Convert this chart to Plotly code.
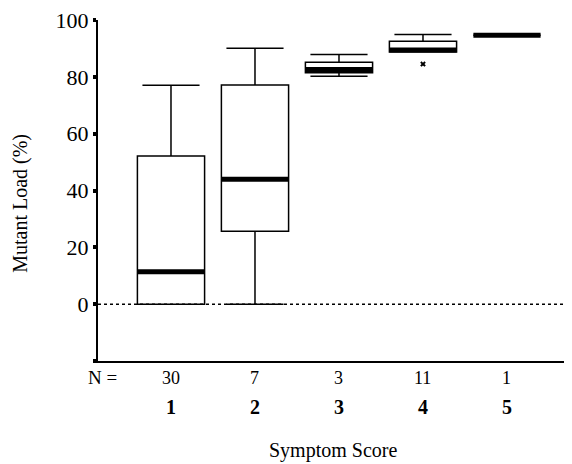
import plotly.graph_objects as go

# ---- data ----
categories = [1, 2, 3, 4, 5]
category_labels = ["1", "2", "3", "4", "5"]
n_counts = [30, 7, 3, 11, 1]
lower_fence = [0.0, 0.0, 80.2, 88.7, 94.6]
q1_vals = [0.0, 25.7, 81.4, 88.7, 94.6]
medians = [11.4, 44.0, 82.6, 89.4, 94.6]
q3_vals = [52.1, 77.1, 85.1, 92.5, 94.6]
upper_fence = [77.0, 90.1, 87.9, 94.9, 94.6]
outlier_x = [4]
outlier_y = [84.5]
y_tick_vals = [-20, 0, 20, 40, 60, 80, 100]
y_tick_text = ["", "0", "20", "40", "60", "80", "100"]

BOX_W = 0.8
FONT = "Liberation Serif, Times New Roman, serif"

fig = go.Figure()

fig.add_trace(go.Box(
    x=categories,
    q1=q1_vals, median=medians, q3=q3_vals,
    lowerfence=lower_fence, upperfence=upper_fence,
    width=BOX_W, whiskerwidth=0.85,
    fillcolor="white",
    line=dict(color="black", width=1.5),
    boxpoints=False,
    showlegend=False,
    hoverinfo="skip",
))

# thick median bars
mx, my = [], []
for c, m in zip(categories, medians):
    mx += [c - BOX_W / 2, c + BOX_W / 2, None]
    my += [m, m, None]
fig.add_trace(go.Scatter(
    x=mx, y=my, mode="lines",
    line=dict(color="black", width=5),
    showlegend=False, hoverinfo="skip",
))

# outlier
fig.add_trace(go.Scatter(
    x=outlier_x, y=outlier_y, mode="markers",
    marker=dict(symbol="x", size=5, color="black", line=dict(width=0)),
    showlegend=False, hoverinfo="skip",
))

# dotted zero line
fig.add_shape(type="line", xref="paper", x0=0, x1=1, yref="y", y0=0, y1=0,
              line=dict(color="black", width=1.5, dash="dot"), layer="above")

# N counts row
fig.add_annotation(text="N =", xref="paper", yref="paper", x=0.0085, y=-0.049,
                   showarrow=False, xanchor="center", yanchor="middle",
                   font=dict(family=FONT, size=19, color="black"))
for c, n in zip(categories, n_counts):
    fig.add_annotation(text=str(n), xref="x", yref="paper", x=c, y=-0.049,
                       showarrow=False, xanchor="center", yanchor="middle",
                       font=dict(family=FONT, size=18, color="black"))

# axis titles
fig.add_annotation(text="Mutant Load (%)", xref="paper", yref="paper",
                   x=-0.1624, y=0.461, textangle=-90, showarrow=False,
                   xanchor="center", yanchor="middle",
                   font=dict(family=FONT, size=20, color="black"))
fig.add_annotation(text="Symptom Score", xref="paper", yref="paper",
                   x=0.496, y=-0.261, showarrow=False,
                   xanchor="center", yanchor="middle",
                   font=dict(family=FONT, size=20, color="black"))

fig.update_layout(
    width=564, height=456,
    margin=dict(l=90, r=0, t=8, b=103),
    plot_bgcolor="white", paper_bgcolor="white",
    font=dict(family=FONT, color="black"),
    xaxis=dict(
        range=[0.131, 5.774],
        tickmode="array", tickvals=categories,
        ticktext=["<b>%s</b>" % t for t in category_labels],
        ticks="", showline=True, linecolor="black", linewidth=2,
        showgrid=False, zeroline=False,
        tickfont=dict(family=FONT, size=20, color="black"),
        ticklabelstandoff=27,
    ),
    yaxis=dict(
        range=[-20, 100],
        tickmode="array", tickvals=y_tick_vals, ticktext=y_tick_text,
        ticks="outside", ticklen=3, tickwidth=4, tickcolor="black",
        showline=True, linecolor="black", linewidth=2,
        showgrid=False, zeroline=False,
        ticklabeloverflow="allow",
        tickfont=dict(family=FONT, size=22, color="black"),
    ),
)

fig.write_html("out.html")
